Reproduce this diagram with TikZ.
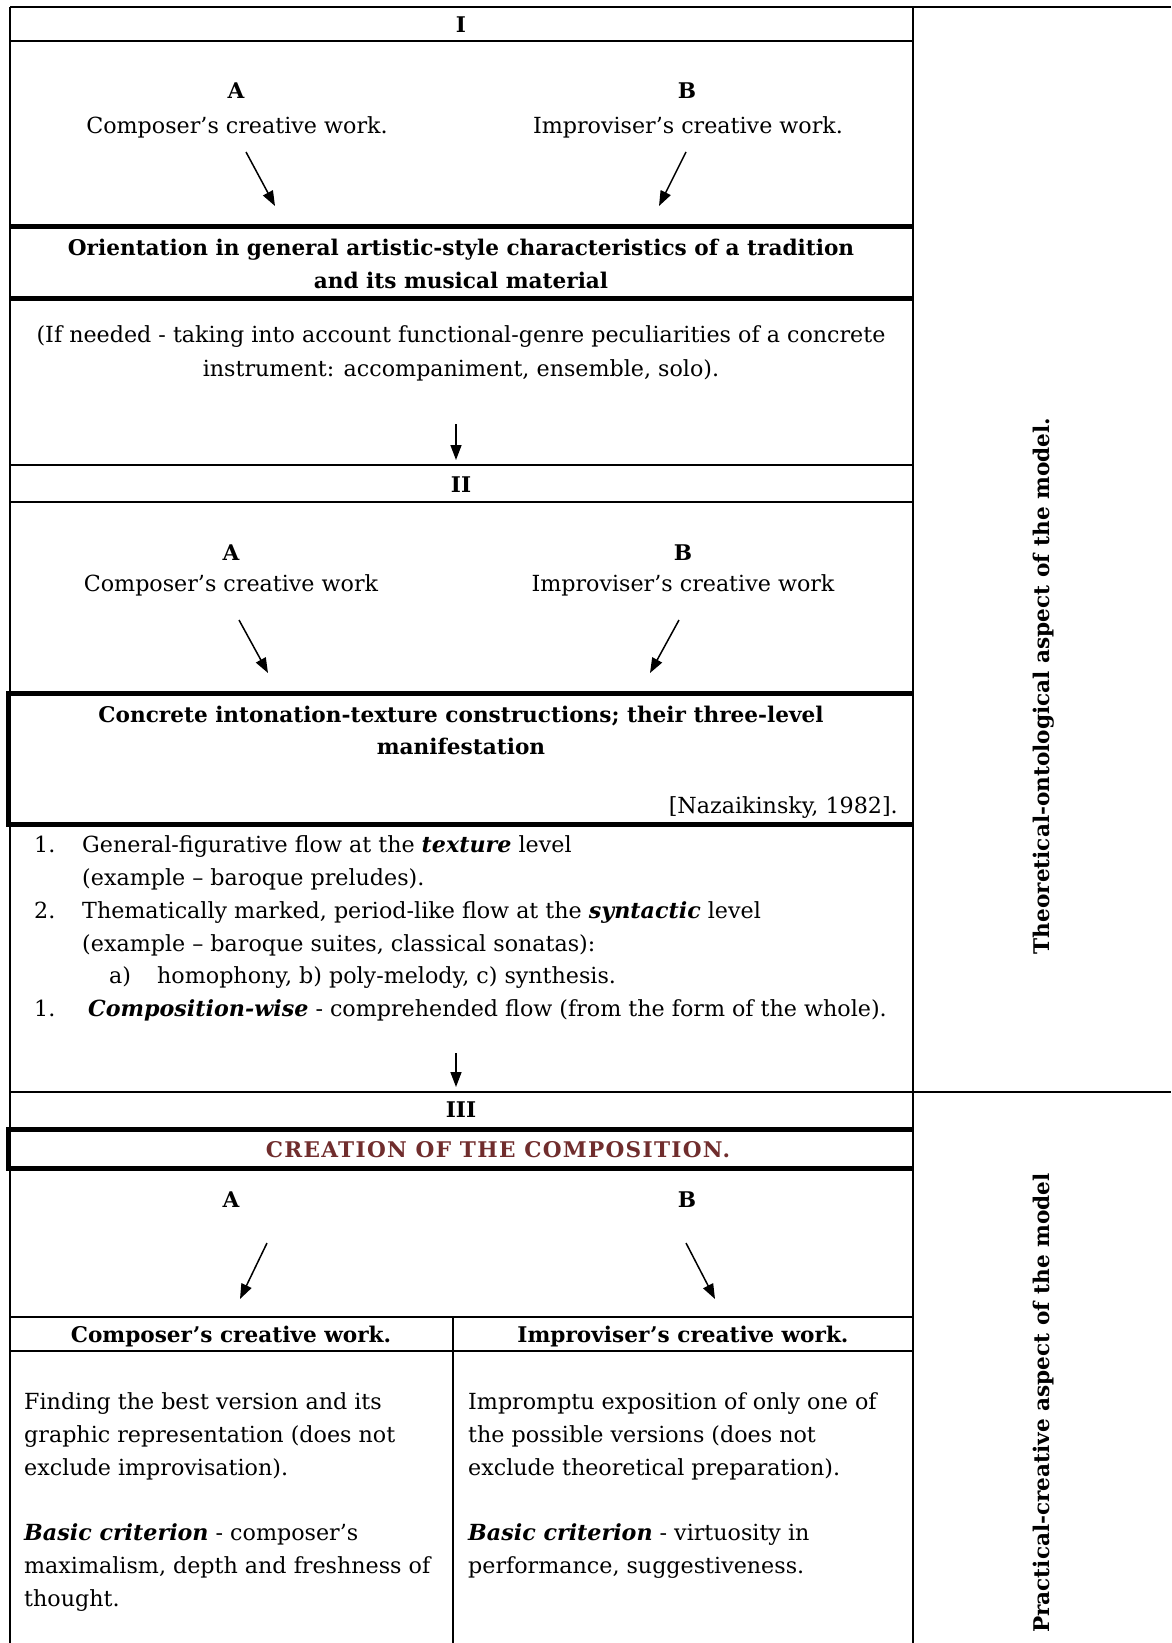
\documentclass[tikz,border=0pt]{standalone}
\usepackage{fontspec}
\setmainfont{DejaVu Serif}
\usetikzlibrary{arrows.meta,positioning}
\definecolor{creationred}{RGB}{112,45,45}

\begin{document}
\begin{tikzpicture}[
    x=1pt, y=-1pt,
    >={Triangle[length=15pt,width=11pt]},
    rule/.style={line width=1.6pt},
    heavyrule/.style={line width=5pt},
    txt/.style={anchor=base, inner sep=0pt, font=\fontsize{22.2}{33}\selectfont},
    bold/.style={txt, font=\fontsize{21.6}{33}\selectfont\bfseries},
    para/.style={anchor=north west, inner sep=0pt, align=left, font=\fontsize{22.2}{33}\selectfont},
    side/.style={rotate=90, inner sep=0pt, font=\fontsize{21.6}{33}\selectfont\bfseries},
    pointer/.style={->, line width=1.5pt}
  ]
    \useasboundingbox (0,0) rectangle (1171,1643);

    \draw[rule] (10,7) -- (1171,7);
    \draw[rule] (10,7) -- (10,1643);
    \draw[rule] (913,7) -- (913,1643);
    \draw[rule] (10,41) -- (913,41);
    \draw[heavyrule] (10,226) -- (913,226);
    \draw[heavyrule] (10,298) -- (913,298);
    \draw[rule] (10,465) -- (913,465);
    \draw[rule] (10,502) -- (913,502);
    \draw[heavyrule] (913,693) -- (8,693) -- (8,824) -- (913,824);
    \draw[rule] (10,1092) -- (1171,1092);
    \draw[heavyrule] (913,1129) -- (8,1129) -- (8,1168) -- (913,1168);
    \draw[rule] (10,1317) -- (913,1317);
    \draw[rule] (10,1351) -- (913,1351);
    \draw[rule] (453,1317) -- (453,1643);

    \node[bold] (one) at (461,33) {I};
    \node[bold] (oneA) at (236,99) {A};
    \node[txt] (oneAtext) at (237,133) {Composer’s creative work.};
    \node[bold] (oneB) at (687,99) {B};
    \node[txt] (oneBtext) at (688,133) {Improviser’s creative work.};
    \coordinate (oneAfrom) at (246,152);
    \coordinate (oneAto) at (275,206);
    \coordinate (oneBfrom) at (686,152);
    \coordinate (oneBto) at (659,206);
    \draw[pointer] (oneAfrom) -- (oneAto);
    \draw[pointer] (oneBfrom) -- (oneBto);

    \node[bold] (orient1) at (461,255) {Orientation in general artistic-style characteristics of a tradition};
    \node[bold] (orient2) at (461,288) {and its musical material};
    \node[txt] (needed1) at (461,342) {(If needed - taking into account functional-genre peculiarities of a concrete};
    \node[txt] (needed2) at (461,376) {instrument: accompaniment, ensemble, solo).};
    \coordinate (downonefrom) at (456,424);
    \coordinate (downoneto) at (456,460);
    \draw[pointer] (downonefrom) -- (downoneto);

    \node[bold] (two) at (461,492) {II};
    \node[bold] (twoA) at (231,560) {A};
    \node[txt] (twoAtext) at (231,591) {Composer’s creative work};
    \node[bold] (twoB) at (683,560) {B};
    \node[txt] (twoBtext) at (683,591) {Improviser’s creative work};
    \coordinate (twoAfrom) at (239,620);
    \coordinate (twoAto) at (268,673);
    \coordinate (twoBfrom) at (679,620);
    \coordinate (twoBto) at (650,673);
    \draw[pointer] (twoAfrom) -- (twoAto);
    \draw[pointer] (twoBfrom) -- (twoBto);

    \node[bold] (concrete1) at (461,722) {Concrete intonation-texture constructions; their three-level};
    \node[bold] (concrete2) at (461,754) {manifestation};
    \node[txt, anchor=base east] (cite) at (898,813) {[Nazaikinsky, 1982].};

    \node[txt, anchor=base west] (num1) at (34,852) {1.};
    \node[txt, anchor=base west] (item1a) at (82,852) {General-figurative flow at the \textbf{\textit{texture}} level};
    \node[txt, anchor=base west] (item1b) at (82,885) {(example – baroque preludes).};
    \node[txt, anchor=base west] (num2) at (34,918) {2.};
    \node[txt, anchor=base west] (item2a) at (82,918) {Thematically marked, period-like flow at the \textbf{\textit{syntactic}} level};
    \node[txt, anchor=base west] (item2b) at (82,951) {(example – baroque suites, classical sonatas):};
    \node[txt, anchor=base west] (suba) at (109,983) {a)};
    \node[txt, anchor=base west] (item2c) at (157,983) {homophony, b) poly-melody, c) synthesis.};
    \node[txt, anchor=base west] (num3) at (34,1016) {1.};
    \node[txt, anchor=base west] (item3) at (88,1016) {\textbf{\textit{Composition-wise}} - comprehended flow (from the form of the whole).};
    \coordinate (downtwofrom) at (456,1053);
    \coordinate (downtwoto) at (456,1087);
    \draw[pointer] (downtwofrom) -- (downtwoto);

    \node[bold] (three) at (461,1117) {III};
    \node[bold, text=creationred] (creation) at (498,1157) {\addfontfeatures{LetterSpace=6}CREATION OF THE COMPOSITION.};
    \node[bold] (threeA) at (231,1207) {A};
    \node[bold] (threeB) at (687,1207) {B};
    \coordinate (threeAfrom) at (267,1243);
    \coordinate (threeAto) at (240,1299);
    \coordinate (threeBfrom) at (686,1243);
    \coordinate (threeBto) at (715,1299);
    \draw[pointer] (threeAfrom) -- (threeAto);
    \draw[pointer] (threeBfrom) -- (threeBto);

    \node[bold] (composerhead) at (231,1342) {Composer’s creative work.};
    \node[bold] (improviserhead) at (683,1342) {Improviser’s creative work.};
    \node[para] (composerbody) at (24,1386) {\strut Finding the best version and its\\graphic representation (does not\\exclude improvisation).\\[32pt]\textbf{\textit{Basic criterion}} - composer’s\\maximalism, depth and freshness of\\thought.};
    \node[para] (improviserbody) at (468,1386) {\strut Impromptu exposition of only one of\\the possible versions (does not\\exclude theoretical preparation).\\[32pt]\textbf{\textit{Basic criterion}} - virtuosity in\\performance, suggestiveness.};

    \node[side] (theory) at (1044,686) {Theoretical-ontological aspect of the model.};
    \node[side] (practice) at (1044,1403) {Practical-creative aspect of the model};
  \end{tikzpicture}
\end{document}
